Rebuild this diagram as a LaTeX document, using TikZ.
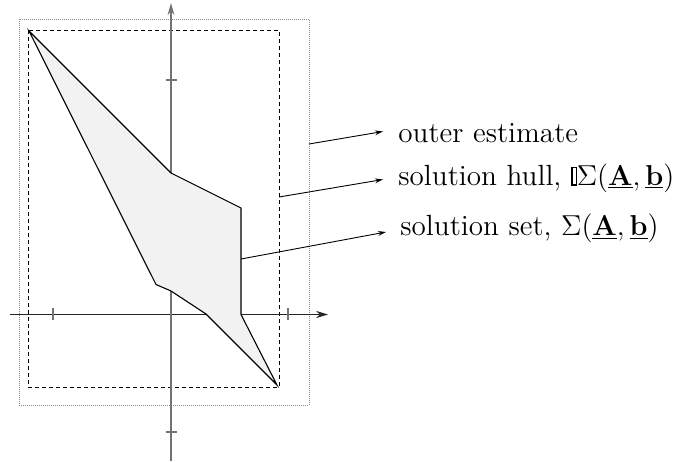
\documentclass[tikz,border=0pt]{standalone}
\usetikzlibrary{arrows.meta}
\newcommand{\hullbox}{\tikz[baseline=0pt]{\draw[line width=0.55pt] (0,0) rectangle (2.4pt,8.6pt); \fill (-0.3pt,-0.28pt) rectangle (0.55pt,8.88pt);}}
\begin{document}
\begin{tikzpicture}[x=0.5pt,y=-0.5pt,
  axisv/.style={draw=black!55, line width=0.9pt},
  axish/.style={draw=black!85, line width=0.6pt},
  tickmark/.style={draw=black!55, line width=0.8pt},
  hullrect/.style={draw=black, line width=0.5pt, dash pattern=on 2pt off 1.5pt},
  outerrect/.style={draw=black!45, line width=0.5pt, dash pattern=on 0.5pt off 0.5pt},
  solset/.style={draw=black, fill=black!5, line width=0.55pt, line join=miter},
  leader/.style={draw=black, line width=0.45pt, -{Stealth[length=4pt,width=2.4pt]}},
  lbl/.style={anchor=base west, inner sep=0pt, font=\fontsize{14.6}{17.5}\selectfont}]
\useasboundingbox (0,0) rectangle (678,461);
% outer estimate (dotted) and hull (dashed)
\draw[outerrect] (19,19) rectangle (309,405);
\draw[hullrect] (28,30) rectangle (279,387);
% axes
\coordinate (xs) at (10,314.5);
\coordinate (xe) at (328,314.5);
\coordinate (ys) at (171,461);
\coordinate (ye) at (171,3);
\draw[axish, -{Stealth[length=6pt,width=3.6pt]}] (xs) -- (xe);
\draw[axisv, -{Stealth[length=6pt,width=3.4pt]}] (ys) -- (ye);
\draw[tickmark] (53,308) -- (53,320);
\draw[tickmark] (288,308) -- (288,320);
\draw[tickmark] (165.5,80) -- (176.5,80);
\draw[tickmark] (165.5,432) -- (176.5,432);
% solution set
\coordinate (p1) at (29,31);
\coordinate (p2) at (171,173);
\coordinate (p3) at (241,208);
\coordinate (p4) at (241,314.5);
\coordinate (p5) at (277,385);
\coordinate (p6) at (206,314);
\coordinate (p7) at (171,291);
\coordinate (p8) at (156,284.5);
\draw[solset] (p1) -- (p2) -- (p3) -- (p4) -- (p5) -- (p6) -- (p7) -- (p8) -- cycle;
% labels
\node[lbl] (outer) at (398,142.7) {outer estimate};
\node[lbl] (hull) at (398,185) {solution hull, \hullbox$\Sigma(\underline{\mathbf{A}},\underline{\mathbf{b}})$};
\node[lbl] (set) at (400,235.7) {solution set, $\Sigma(\underline{\mathbf{A}},\underline{\mathbf{b}})$};
% leaders
\coordinate (o1) at (309,144);
\coordinate (o2) at (383,131.5);
\coordinate (h1) at (279,197);
\coordinate (h2) at (383,179.5);
\coordinate (s1) at (241,259);
\coordinate (s2) at (386,232);
\draw[leader] (o1) -- (o2);
\draw[leader] (h1) -- (h2);
\draw[leader] (s1) -- (s2);
\end{tikzpicture}
\end{document}
